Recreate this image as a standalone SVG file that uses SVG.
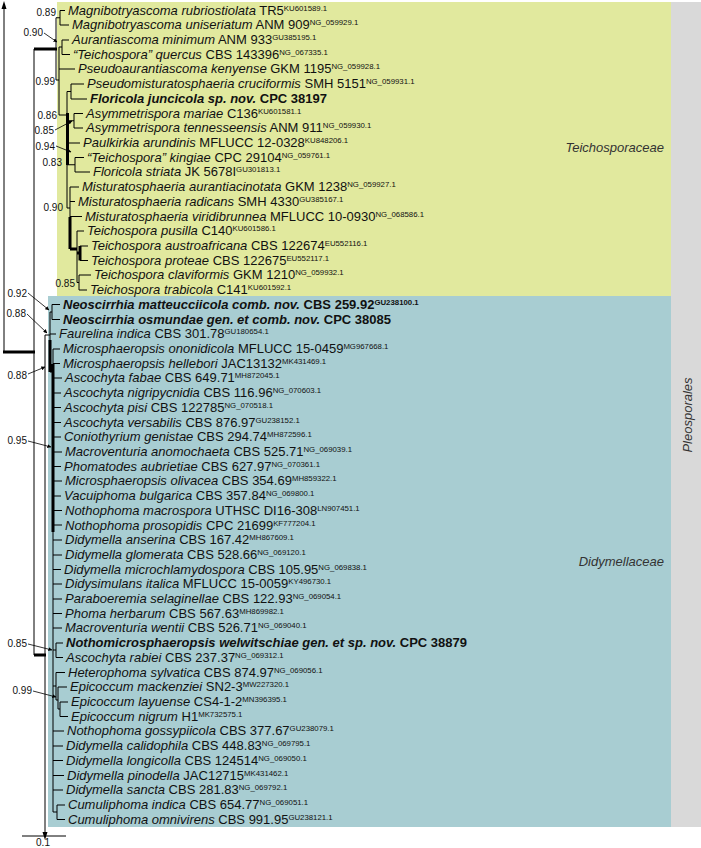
<svg xmlns="http://www.w3.org/2000/svg" width="701" height="848" viewBox="0 0 701 848">
<style>
text{font-family:"Liberation Sans",Arial,sans-serif;fill:#111}
.t{font-size:13px}
.i{font-style:italic}
.b{font-weight:bold}
.s{font-size:7.8px}
.sv{font-size:10px}
.fam{font-size:13px;font-style:italic;fill:#333}
.ln{fill:none;stroke:#000;stroke-width:1}
.tk{fill:none;stroke:#000;stroke-width:3}
.ar{fill:none;stroke:#000;stroke-width:0.8;marker-end:url(#ah)}
</style>
<defs>
<marker id="ah" viewBox="0 0 6 6" refX="5.5" refY="3" markerWidth="5" markerHeight="5" orient="auto"><path d="M0,0 L6,3 L0,6 z" fill="#000"/></marker>
</defs>
<g id="backgrounds">
<rect x="57" y="2" width="614" height="294" fill="#e1e99e"/>
<rect x="48" y="296" width="623" height="531" fill="#a8cdd2"/>
<rect x="671" y="2" width="30" height="825" fill="#d9d9d9"/>
</g>
<g id="clade-labels">
<text class="fam" x="664" y="152" text-anchor="end">Teichosporaceae</text>
<text class="fam" x="664" y="566" text-anchor="end">Didymellaceae</text>
<text class="fam" x="0" y="0" text-anchor="middle" transform="translate(692,415) rotate(-90)">Pleosporales</text>
</g>
<g id="connectors">
<path class="ln" d="M4,7 V352 M34,49 V655 M45,335 V832"/>
<path d="M4,1 L1.5,9 L6.5,9 z M45,840 L42.5,832 L47.5,832 z" fill="#000"/>
<path class="tk" d="M3,352 H35 M34,49 H57 M34,655 H46"/>
<!-- Teichosporaceae -->
<path class="ln" d="M56,17.75 V80 M56,17.75 H60 M60,10.5 V25 M60,10.5 H65 M60,25 H69
M56,80 H59 M59,47 V115 M59,47 H62 M62,40 V54.5 M62,40 H69 M62,54.5 H70 M59,69 H75
M59,115 H67 M67,91.5 V208 M67,91.5 H71 M71,84 V99 M71,84 H84 M71,99 H87
M67,120.75 H74 M74,113.5 V128 M74,113.5 H83 M74,128 H83 M67,143 H80
M67,164.75 H75 M75,157.5 V172 M75,157.5 H84 M75,172 H90
M67,208 H70 M70,187 V249 M70,187 H79 M70,201.5 H75 M70,216.5 H82
M77,231 V282.5 M77,231 H84 M80,246 H88 M80,260.5 H88
M77,282.5 H79 M79,275 V290 M79,275 H91 M79,290 H87"/>
<path class="tk" d="M67.5,113 V165 M70,217 V249 M70,249 H77 M77,253 H80 M80,246 V260.5"/>
<!-- Didymellaceae -->
<path class="ln" d="M45,335 H50 M50,312 V372 M50,312 H52 M52,304.5 V319.5 M52,304.5 H60 M52,319.5 H60 M50,334 H56
M50,372 H53 M53,349 V812
M53,349 H60 M53,363.5 H60 M53,378 H62 M53,393 H61 M53,407.5 H61 M53,422.5 H61 M53,437 H61
M53,452 H62 M53,466.5 H61 M53,481 H62 M53,496 H61 M53,510.5 H62 M53,525 H62 M53,540 H62
M53,555 H62 M53,569.5 H61 M53,584 H62 M53,599 H62 M53,613.5 H62 M53,628 H62
M53,650 H56 M56,643 V657.5 M56,643 H63 M56,657.5 H63
M53,686 H56 M56,672.5 V700 M56,672.5 H65 M56,700 H58 M58,687 V709 M58,687 H67 M58,709 H60 M60,702 V716.5 M60,702 H68 M60,716.5 H68
M53,731 H64 M53,746 H63 M53,760.5 H63 M53,775.5 H64 M53,790 H63
M53,812 H57 M57,805 V819.5 M57,805 H65 M57,819.5 H65"/>
<path class="tk" d="M50,340 V372 M53,364 V532"/>
<!-- support arrows -->
<path class="ar" d="M44,33 L57,42"/>
<path class="ar" d="M55,130 L72,121"/>
<path class="ar" d="M56,146 L71,152"/>
<path class="ar" d="M28,293 L49,310"/>
<path class="ar" d="M27,314 L47,333"/>
<path class="ar" d="M28,374 L45,367"/>
<path class="ar" d="M28,441 L51,447"/>
<path class="ar" d="M28,644 L52,650"/>
<path class="ar" d="M33,691 L56,697"/>
<path class="ln" d="M22,836 H66"/>
</g>
<g id="supports">
<text class="sv" x="56" y="15.5" text-anchor="end">0.89</text>
<text class="sv" x="43" y="35.5" text-anchor="end">0.90</text>
<text class="sv" x="55" y="84.5" text-anchor="end">0.99</text>
<text class="sv" x="57" y="118.5" text-anchor="end">0.86</text>
<text class="sv" x="54" y="133.5" text-anchor="end">0.85</text>
<text class="sv" x="55" y="149.5" text-anchor="end">0.94</text>
<text class="sv" x="62" y="165.5" text-anchor="end">0.83</text>
<text class="sv" x="63" y="210.5" text-anchor="end">0.90</text>
<text class="sv" x="75" y="286.5" text-anchor="end">0.85</text>
<text class="sv" x="27" y="296.5" text-anchor="end">0.92</text>
<text class="sv" x="26" y="316.5" text-anchor="end">0.88</text>
<text class="sv" x="27" y="378.5" text-anchor="end">0.88</text>
<text class="sv" x="27" y="443.5" text-anchor="end">0.95</text>
<text class="sv" x="27" y="646.5" text-anchor="end">0.85</text>
<text class="sv" x="32" y="693.5" text-anchor="end">0.99</text>
<text class="sv" x="43" y="846" text-anchor="middle">0.1</text>
</g>
<g id="taxa" class="t">
<text id="n0" x="68" y="14.6"><tspan class="i">Magnibotryascoma rubriostiolata</tspan> TR5<tspan class="s" dy="-4">KU601589.1</tspan></text>
<text id="n1" x="72" y="29.3"><tspan class="i">Magnibotryascoma uniseriatum</tspan> ANM 909<tspan class="s" dy="-4">NG_059929.1</tspan></text>
<text id="n2" x="72" y="44"><tspan class="i">Aurantiascoma minimum</tspan> ANM 933<tspan class="s" dy="-4">GU385195.1</tspan></text>
<text id="n3" x="73" y="58.7"><tspan class="i">“Teichospora” quercus</tspan> CBS 143396<tspan class="s" dy="-4">NG_067335.1</tspan></text>
<text id="n4" x="78" y="73.4"><tspan class="i">Pseudoaurantiascoma kenyense</tspan> GKM 1195<tspan class="s" dy="-4">NG_059928.1</tspan></text>
<text id="n5" x="87" y="88.2"><tspan class="i">Pseudomisturatosphaeria cruciformis</tspan> SMH 5151<tspan class="s" dy="-4">NG_059931.1</tspan></text>
<text id="n6" x="90" y="102.9" class="b"><tspan class="i">Floricola juncicola sp. nov.</tspan> CPC 38197</text>
<text id="n7" x="86" y="117.6"><tspan class="i">Asymmetrispora mariae</tspan> C136<tspan class="s" dy="-4">KU601581.1</tspan></text>
<text id="n8" x="86" y="132.3"><tspan class="i">Asymmetrispora tennesseensis</tspan> ANM 911<tspan class="s" dy="-4">NG_059930.1</tspan></text>
<text id="n9" x="83" y="147"><tspan class="i">Paulkirkia arundinis</tspan> MFLUCC 12-0328<tspan class="s" dy="-4">KU848206.1</tspan></text>
<text id="n10" x="87" y="161.7"><tspan class="i">“Teichospora” kingiae</tspan> CPC 29104<tspan class="s" dy="-4">NG_059761.1</tspan></text>
<text id="n11" x="93" y="176.4"><tspan class="i">Floricola striata</tspan> JK 5678I<tspan class="s" dy="-4">GU301813.1</tspan></text>
<text id="n12" x="82" y="191.1"><tspan class="i">Misturatosphaeria aurantiacinotata</tspan> GKM 1238<tspan class="s" dy="-4">NG_059927.1</tspan></text>
<text id="n13" x="78" y="205.8"><tspan class="i">Misturatosphaeria radicans</tspan> SMH 4330<tspan class="s" dy="-4">GU385167.1</tspan></text>
<text id="n14" x="85" y="220.5"><tspan class="i">Misturatosphaeria viridibrunnea</tspan> MFLUCC 10-0930<tspan class="s" dy="-4">NG_068586.1</tspan></text>
<text id="n15" x="87" y="235.3"><tspan class="i">Teichospora pusilla</tspan> C140<tspan class="s" dy="-4">KU601586.1</tspan></text>
<text id="n16" x="91" y="250"><tspan class="i">Teichospora austroafricana</tspan> CBS 122674<tspan class="s" dy="-4">EU552116.1</tspan></text>
<text id="n17" x="91" y="264.7"><tspan class="i">Teichospora proteae</tspan> CBS 122675<tspan class="s" dy="-4">EU552117.1</tspan></text>
<text id="n18" x="94" y="279.4"><tspan class="i">Teichospora claviformis</tspan> GKM 1210<tspan class="s" dy="-4">NG_059932.1</tspan></text>
<text id="n19" x="90" y="294.1"><tspan class="i">Teichospora trabicola</tspan> C141<tspan class="s" dy="-4">KU601592.1</tspan></text>
<text id="n20" x="63" y="308.8" class="b"><tspan class="i">Neoscirrhia matteucciicola comb. nov.</tspan> CBS 259.92<tspan class="s" dy="-4">GU238100.1</tspan></text>
<text id="n21" x="63" y="323.5" class="b"><tspan class="i">Neoscirrhia osmundae gen. et comb. nov.</tspan> CPC 38085</text>
<text id="n22" x="59" y="338.2"><tspan class="i">Faurelina indica</tspan> CBS 301.78<tspan class="s" dy="-4">GU180654.1</tspan></text>
<text id="n23" x="63" y="352.9"><tspan class="i">Microsphaeropsis ononidicola</tspan> MFLUCC 15-0459<tspan class="s" dy="-4">MG967668.1</tspan></text>
<text id="n24" x="63" y="367.6"><tspan class="i">Microsphaeropsis hellebori</tspan> JAC13132<tspan class="s" dy="-4">MK431469.1</tspan></text>
<text id="n25" x="65" y="382.4"><tspan class="i">Ascochyta fabae</tspan> CBS 649.71<tspan class="s" dy="-4">MH872045.1</tspan></text>
<text id="n26" x="64" y="397.1"><tspan class="i">Ascochyta nigripycnidia</tspan> CBS 116.96<tspan class="s" dy="-4">NG_070603.1</tspan></text>
<text id="n27" x="64" y="411.8"><tspan class="i">Ascochyta pisi</tspan> CBS 122785<tspan class="s" dy="-4">NG_070518.1</tspan></text>
<text id="n28" x="64" y="426.5"><tspan class="i">Ascochyta versabilis</tspan> CBS 876.97<tspan class="s" dy="-4">GU238152.1</tspan></text>
<text id="n29" x="64" y="441.2"><tspan class="i">Coniothyrium genistae</tspan> CBS 294.74<tspan class="s" dy="-4">MH872596.1</tspan></text>
<text id="n30" x="65" y="455.9"><tspan class="i">Macroventuria anomochaeta</tspan> CBS 525.71<tspan class="s" dy="-4">NG_069039.1</tspan></text>
<text id="n31" x="64" y="470.6"><tspan class="i">Phomatodes aubrietiae</tspan> CBS 627.97<tspan class="s" dy="-4">NG_070361.1</tspan></text>
<text id="n32" x="65" y="485.3"><tspan class="i">Microsphaeropsis olivacea</tspan> CBS 354.69<tspan class="s" dy="-4">MH859322.1</tspan></text>
<text id="n33" x="64" y="500"><tspan class="i">Vacuiphoma bulgarica</tspan> CBS 357.84<tspan class="s" dy="-4">NG_069800.1</tspan></text>
<text id="n34" x="65" y="514.7"><tspan class="i">Nothophoma macrospora</tspan> UTHSC DI16-308<tspan class="s" dy="-4">LN907451.1</tspan></text>
<text id="n35" x="65" y="529.5"><tspan class="i">Nothophoma prosopidis</tspan> CPC 21699<tspan class="s" dy="-4">KF777204.1</tspan></text>
<text id="n36" x="65" y="544.2"><tspan class="i">Didymella anserina</tspan> CBS 167.42<tspan class="s" dy="-4">MH867609.1</tspan></text>
<text id="n37" x="65" y="558.9"><tspan class="i">Didymella glomerata</tspan> CBS 528.66<tspan class="s" dy="-4">NG_069120.1</tspan></text>
<text id="n38" x="64" y="573.6"><tspan class="i">Didymella microchlamydospora</tspan> CBS 105.95<tspan class="s" dy="-4">NG_069838.1</tspan></text>
<text id="n39" x="65" y="588.3"><tspan class="i">Didysimulans italica</tspan> MFLUCC 15-0059<tspan class="s" dy="-4">KY496730.1</tspan></text>
<text id="n40" x="65" y="603"><tspan class="i">Paraboeremia selaginellae</tspan> CBS 122.93<tspan class="s" dy="-4">NG_069054.1</tspan></text>
<text id="n41" x="65" y="617.7"><tspan class="i">Phoma herbarum</tspan> CBS 567.63<tspan class="s" dy="-4">MH869982.1</tspan></text>
<text id="n42" x="65" y="632.4"><tspan class="i">Macroventuria wentii</tspan> CBS 526.71<tspan class="s" dy="-4">NG_069040.1</tspan></text>
<text id="n43" x="66" y="647.1" class="b"><tspan class="i">Nothomicrosphaeropsis welwitschiae gen. et sp. nov.</tspan> CPC 38879</text>
<text id="n44" x="66" y="661.8"><tspan class="i">Ascochyta rabiei</tspan> CBS 237.37<tspan class="s" dy="-4">NG_069312.1</tspan></text>
<text id="n45" x="68" y="676.5"><tspan class="i">Heterophoma sylvatica</tspan> CBS 874.97<tspan class="s" dy="-4">NG_069056.1</tspan></text>
<text id="n46" x="70" y="691.3"><tspan class="i">Epicoccum mackenziei</tspan> SN2-3<tspan class="s" dy="-4">MW227320.1</tspan></text>
<text id="n47" x="71" y="706"><tspan class="i">Epicoccum layuense</tspan> CS4-1-2<tspan class="s" dy="-4">MN396395.1</tspan></text>
<text id="n48" x="71" y="720.7"><tspan class="i">Epicoccum nigrum</tspan> H1<tspan class="s" dy="-4">MK732575.1</tspan></text>
<text id="n49" x="67" y="735.4"><tspan class="i">Nothophoma gossypiicola</tspan> CBS 377.67<tspan class="s" dy="-4">GU238079.1</tspan></text>
<text id="n50" x="66" y="750.1"><tspan class="i">Didymella calidophila</tspan> CBS 448.83<tspan class="s" dy="-4">NG_069795.1</tspan></text>
<text id="n51" x="66" y="764.8"><tspan class="i">Didymella longicolla</tspan> CBS 124514<tspan class="s" dy="-4">NG_069050.1</tspan></text>
<text id="n52" x="67" y="779.5"><tspan class="i">Didymella pinodella</tspan> JAC12715<tspan class="s" dy="-4">MK431462.1</tspan></text>
<text id="n53" x="66" y="794.2"><tspan class="i">Didymella sancta</tspan> CBS 281.83<tspan class="s" dy="-4">NG_069792.1</tspan></text>
<text id="n54" x="68" y="808.9"><tspan class="i">Cumuliphoma indica</tspan> CBS 654.77<tspan class="s" dy="-4">NG_069051.1</tspan></text>
<text id="n55" x="68" y="823.6"><tspan class="i">Cumuliphoma omnivirens</tspan> CBS 991.95<tspan class="s" dy="-4">GU238121.1</tspan></text>
</g>
</svg>
